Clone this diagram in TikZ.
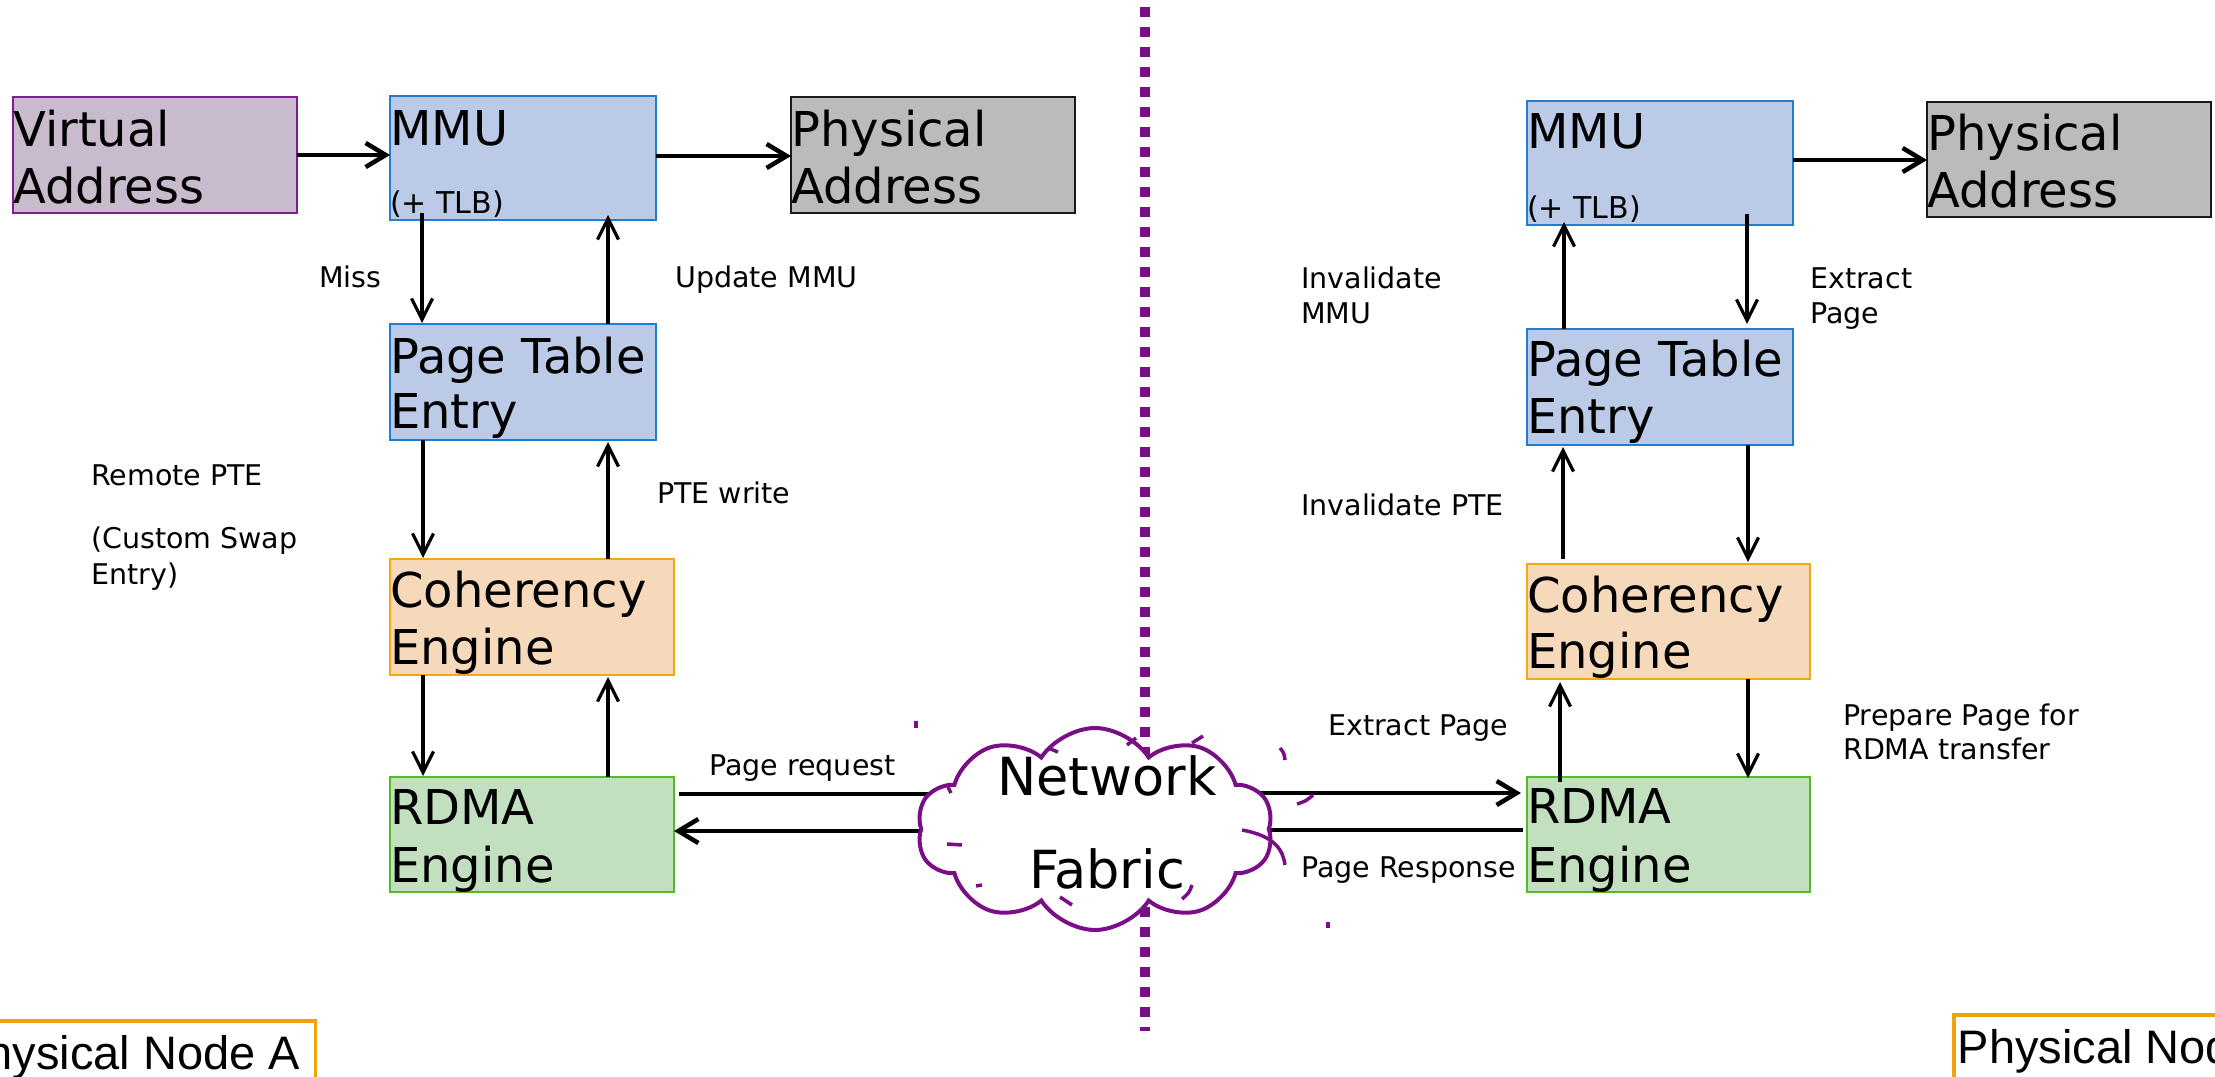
\documentclass[tikz,border=0pt]{standalone}
\usepackage{fontspec}
\setmainfont{DejaVu Sans}
\newfontfamily\arialf{Liberation Sans}
\usetikzlibrary{arrows.meta,shapes.symbols}
\definecolor{vaFill}{HTML}{C9BBCE}
\definecolor{vaDraw}{HTML}{7F1F8E}
\definecolor{blueFill}{HTML}{BBCAE7}
\definecolor{blueDraw}{HTML}{1F7DD4}
\definecolor{grayFill}{HTML}{BBBBBB}
\definecolor{grayDraw}{HTML}{1A1A1A}
\definecolor{orFill}{HTML}{F6D8BA}
\definecolor{orDraw}{HTML}{F0AA0F}
\definecolor{grFill}{HTML}{C2DFBF}
\definecolor{grDraw}{HTML}{55B928}
\definecolor{netPurple}{HTML}{7A0E86}
\definecolor{pnOrange}{HTML}{F0A30A}
\begin{document}
\begin{tikzpicture}[x=1pt,y=-1pt,
  box/.style={rectangle, inner sep=0pt, outer sep=0pt, anchor=north west, line width=2.2pt},
  vabox/.style={box, fill=vaFill, draw=vaDraw},
  bluebox/.style={box, fill=blueFill, draw=blueDraw},
  graybox/.style={box, fill=grayFill, draw=grayDraw, line width=2.6pt},
  orbox/.style={box, fill=orFill, draw=orDraw},
  grbox/.style={box, fill=grFill, draw=grDraw},
  wide/.style={minimum width=284pt, minimum height=116pt},
  narrow/.style={minimum width=266pt, minimum height=116pt},
  bt/.style={anchor=base west, inner sep=0pt, font=\fontsize{48}{56}\selectfont},
  tlb/.style={anchor=base west, inner sep=0pt, font=\fontsize{30}{36}\selectfont},
  lbl/.style={anchor=base west, inner sep=0pt, font=\fontsize{28.5}{34}\selectfont},
  nett/.style={anchor=base, inner sep=0pt, font=\fontsize{52.5}{62}\selectfont},
  harr/.style={line width=4.5pt, -{Straight Barb[length=20pt,width=24pt]}},
  hline/.style={line width=4.5pt},
  varr/.style={line width=3.2pt, -{Straight Barb[length=21pt,width=21pt]}},
  pnbox/.style={draw=pnOrange, line width=3.5pt, font=\arialf\fontsize{47}{56}\selectfont},
  stray/.style={draw=netPurple, line width=3.5pt}
]
\useasboundingbox (0,0) rectangle (2215,1076);
\fill[white] (0,0) rectangle (2215,1076);

% divider
\coordinate (divTop) at (1145,7);
\coordinate (divBot) at (1145,1031);
\draw[netPurple, line width=10pt, dash pattern=on 10pt off 10pt] (divTop) -- (divBot);

% ---------- left node ----------
\node[vabox, wide] (vaL) at (13,97) {};
\node[bluebox, narrow, minimum height=124pt] (mmuL) at (390,96) {};
\node[graybox, wide] (paL) at (791,97) {};
\node[bluebox, narrow] (pteL) at (390,324) {};
\node[orbox, wide] (cohL) at (390,559) {};
\node[grbox, wide, minimum height=115pt] (rdmaL) at (390,777) {};

\node[bt] (vaT1) at (13,146) {Virtual};
\node[bt] (vaT2) at (13,203) {Address};
\node[bt] (mmuLT1) at (390,145) {MMU};
\node[tlb] (mmuLT2) at (390,213) {(+ TLB)};
\node[bt] (paLT1) at (791,146) {Physical};
\node[bt] (paLT2) at (791,203) {Address};
\node[bt] (pteLT1) at (390,373) {Page Table};
\node[bt] (pteLT2) at (390,428) {Entry};
\node[bt] (cohLT1) at (390,607) {Coherency};
\node[bt] (cohLT2) at (390,664) {Engine};
\node[bt] (rdmaLT1) at (390,824) {RDMA};
\node[bt] (rdmaLT2) at (390,882) {Engine};

% ---------- right node ----------
\node[bluebox, narrow, minimum height=124pt] (mmuR) at (1527,101) {};
\node[graybox, wide, minimum height=115pt] (paR) at (1927,102) {};
\node[bluebox, narrow] (pteR) at (1527,329) {};
\node[orbox, wide, minimum width=283pt, minimum height=115pt] (cohR) at (1527,564) {};
\node[grbox, wide, minimum width=283pt, minimum height=115pt] (rdmaR) at (1527,777) {};

\node[bt] (mmuRT1) at (1527,148) {MMU};
\node[tlb] (mmuRT2) at (1527,218) {(+ TLB)};
\node[bt] (paRT1) at (1927,150) {Physical};
\node[bt] (paRT2) at (1927,207) {Address};
\node[bt] (pteRT1) at (1527,376) {Page Table};
\node[bt] (pteRT2) at (1527,433) {Entry};
\node[bt] (cohRT1) at (1527,612) {Coherency};
\node[bt] (cohRT2) at (1527,668) {Engine};
\node[bt] (rdmaRT1) at (1527,823) {RDMA};
\node[bt] (rdmaRT2) at (1527,882) {Engine};

% ---------- left arrows ----------
\draw[harr] (vaL.east) -- (vaL.east -| mmuL.west);
\draw[harr] ([yshift=2pt]mmuL.east) -- ([yshift=2pt]mmuL.east -| paL.west);
\draw[varr] ([xshift=32pt,yshift=7pt]mmuL.south west) -- ([xshift=32pt,yshift=1pt]pteL.north west);
\draw[varr] ([xshift=218pt]pteL.north west) -- ([xshift=218pt,yshift=5pt]mmuL.south west);
\draw[varr] ([xshift=33pt]pteL.south west) -- ([xshift=33pt,yshift=1pt]cohL.north west);
\draw[varr] ([xshift=218pt]cohL.north west) -- ([xshift=218pt,yshift=-2pt]pteL.south west);
\draw[varr] ([xshift=33pt]cohL.south west) -- ([xshift=33pt,yshift=1pt]rdmaL.north west);
\draw[varr] ([xshift=218pt]rdmaL.north west) -- ([xshift=218pt,yshift=-2pt]cohL.south west);

% ---------- right arrows ----------
\draw[harr] ([yshift=3pt]mmuR.east) -- ([yshift=3pt]mmuR.east -| paR.west);
\draw[varr] ([xshift=37pt]pteR.north west) -- ([xshift=37pt,yshift=3pt]mmuR.south west);
\draw[varr] ([xshift=220pt,yshift=11pt]mmuR.south west) -- ([xshift=220pt,yshift=5pt]pteR.north west);
\draw[varr] ([xshift=36pt,yshift=5pt]cohR.north west) -- ([xshift=36pt,yshift=-2pt]pteR.south west);
\draw[varr] ([xshift=221pt]pteR.south west) -- ([xshift=221pt,yshift=2pt]cohR.north west);
\draw[varr] ([xshift=221pt]cohR.south west) -- ([xshift=221pt,yshift=-1pt]rdmaR.north west);
\draw[varr] ([xshift=33pt,yshift=-5pt]rdmaR.north west) -- ([xshift=33pt,yshift=-3pt]cohR.south west);

% ---------- network links ----------
\coordinate (netLA) at (950,794);
\coordinate (netLB) at (923,831);
\coordinate (netRA) at (1245,793);
\coordinate (netRB) at (1267,830);
\draw[hline] ([xshift=5pt]netLA -| rdmaL.east) -- (netLA);
\draw[harr] (netLB) -- (netLB -| rdmaL.east);
\draw[harr] (netRA) -- ([xshift=-6pt]netRA -| rdmaR.west);
\draw[hline] ([xshift=-4pt]netRB -| rdmaR.west) -- (netRB);

% cloud
\node[cloud, cloud puffs=10, cloud puff arc=115, aspect=1.65, draw=netPurple, fill=white, line width=4pt,
      minimum width=356pt, minimum height=202pt, inner sep=0pt] (net) at (1095,829) {};
\node[nett] (netT1) at (1107,795) {Network};
\node[nett] (netT2) at (1107,888) {Fabric};

% stray dashes around the cloud
\draw[stray] (916,721) -- (916,728);
\draw[stray] (1280,748) .. controls (1284,753) .. (1285,760);
\draw[stray] (1297,804) .. controls (1306,801) .. (1313,795);
\draw[stray] (1242,830) .. controls (1275,836) and (1283,850) .. (1285,865);
\draw[stray] (1328,922) -- (1328,928);
\draw[stray] (1048,748) -- (1058,752);
\draw[stray] (1127,745) -- (1136,738);
\draw[stray] (1192,743) -- (1203,736);
\draw[stray] (947,844) -- (962,845);
\draw[stray] (976,886) -- (982,885);
\draw[stray] (1060,897) -- (1072,905);
\draw[stray] (1182,899) .. controls (1189,893) .. (1192,885);
\draw[stray] (948,787) -- (951,793);

% ---------- labels ----------
\node[lbl] (lMiss) at (319,287) {Miss};
\node[lbl] (lUpd) at (675,287) {Update MMU};
\node[lbl] (lRem) at (91,485) {Remote PTE};
\node[lbl] (lCus1) at (91,548) {(Custom Swap};
\node[lbl] (lCus2) at (91,584) {Entry)};
\node[lbl] (lPw) at (657,503) {PTE write};
\node[lbl] (lPreq) at (709,775) {Page request};
\node[lbl] (lInv1) at (1301,288) {Invalidate};
\node[lbl] (lInv2) at (1301,323) {MMU};
\node[lbl] (lExt1) at (1810,288) {Extract};
\node[lbl] (lExt2) at (1810,323) {Page};
\node[lbl] (lInvP) at (1301,515) {Invalidate PTE};
\node[lbl] (lExtP) at (1328,735) {Extract Page};
\node[lbl] (lPrep1) at (1843,725) {Prepare Page for};
\node[lbl] (lPrep2) at (1843,759) {RDMA transfer};
\node[lbl] (lPres) at (1301,877) {Page Response};

% ---------- physical node tags ----------
\node[pnbox, anchor=base east, inner xsep=15pt, inner ysep=14pt] (pnA) at (317,1069) {Physical Node A};
\node[pnbox, anchor=base west, inner xsep=4pt, inner ysep=14pt] (pnB) at (1952,1063) {Physical Node B};
\end{tikzpicture}
\end{document}
